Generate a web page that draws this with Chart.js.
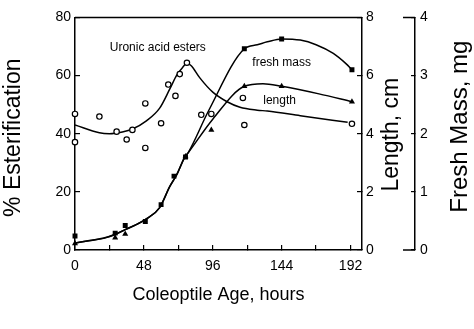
<!DOCTYPE html>
<html>
<head>
<meta charset="utf-8">
<script src="https://cdn.jsdelivr.net/npm/chart.js@4/dist/chart.umd.min.js"></script>
<style>
  html, body { margin: 0; padding: 0; background: #fff; }
  canvas { display: block; }
</style>
</head>
<body>
<canvas id="chart" width="474" height="329"></canvas>
<script>
// 测量点：糖醛酸酯化 (%)
const uronicHours = [0, 0, 17, 29, 36, 40, 49, 49, 60, 65, 70, 73, 78, 88, 95, 117, 118, 193];
const uronicPct = [46.8, 37.1, 45.9, 40.7, 38.0, 41.3, 50.4, 35.1, 43.6, 56.9, 53.0, 60.5, 64.4, 46.5, 46.8, 52.3, 43.0, 43.4];

// 测量点：鲜重 (mg)
const massHours = [0, 28, 35, 49, 60, 69, 77, 118, 144, 193];
const massMg = [0.24, 0.29, 0.42, 0.49, 0.78, 1.27, 1.6, 3.46, 3.63, 3.1];

// 测量点：长度 (cm)
const lengthHours = [0, 28, 35, 77, 95, 118, 144, 193];
const lengthCm = [0.22, 0.42, 0.55, 3.22, 4.13, 5.63, 5.63, 5.1];

// 拟合曲线
const uronicFitHours = [0, 17, 24, 33, 40, 50, 59, 66, 71, 75, 78, 81, 87, 96, 106, 115, 127, 134, 157, 190];
const uronicFitPct = [43, 40.3, 40, 40.6, 41.6, 44.5, 48.8, 55.3, 60.2, 62.8, 64.2, 63.4, 59.2, 54.3, 51, 49.1, 48.1, 47.8, 46.2, 43.9];

const massFitHours = [0, 10, 20, 28.5, 35.5, 43, 50, 59, 66, 71, 76.5, 79, 93, 118, 127, 134, 144, 157, 168, 180, 189, 193];
const massFitMg = [0.12, 0.16, 0.2, 0.27, 0.36, 0.44, 0.54, 0.73, 1.09, 1.3, 1.6, 1.68, 2.39, 3.46, 3.53, 3.58, 3.63, 3.61, 3.53, 3.38, 3.2, 3.1];

const lengthFitHours = [0, 10, 20, 28.5, 35.5, 43, 50, 59, 66, 71, 76.5, 79, 96, 118, 131, 144, 170, 193];
const lengthFitCm = [0.24, 0.33, 0.41, 0.55, 0.71, 0.88, 1.08, 1.46, 2.18, 2.6, 3.19, 3.35, 4.5, 5.63, 5.72, 5.63, 5.37, 5.1];

// 文字标签
const curveLabels = ['Uronic acid esters', 'fresh mass', 'length'];
const titleX = 'Coleoptile Age, hours';
const titleLeft = '% Esterification';
const titleLength = 'Length, cm';
const titleMass = 'Fresh Mass, mg';

const FONT = "'Liberation Sans', Arial, Helvetica, sans-serif";

function toPoints(xs, ys) {
    return xs.map((x, i) => ({ x: x, y: ys[i] }));
}

/**
 * 额外绘制：顶部边框、鲜重轴端点、曲线标注、纵轴标题
 */
const annotatePlugin = {
    id: 'annotate',
    afterDraw(chart) {
        const { ctx, chartArea, scales } = chart;
        ctx.save();
        ctx.strokeStyle = '#000';
        ctx.lineWidth = 1.5;
        ctx.beginPath();
        ctx.moveTo(chartArea.left, chartArea.top);
        ctx.lineTo(chartArea.right, chartArea.top);
        const m = scales.yMass;
        [m.min, m.max].forEach(v => {
            const y = m.getPixelForValue(v);
            ctx.moveTo(m.left - 12, y);
            ctx.lineTo(m.left, y);
        });
        ctx.stroke();

        // 曲线标注
        ctx.fillStyle = '#000';
        ctx.font = '12px ' + FONT;
        ctx.textAlign = 'center';
        ctx.textBaseline = 'middle';
        const spots = [[57.7, 69.6], [144, 64.4], [142.6, 51.4]];
        curveLabels.forEach((t, i) => {
            ctx.fillText(t, scales.x.getPixelForValue(spots[i][0]), scales.y.getPixelForValue(spots[i][1]));
        });

        // 纵轴标题（自下而上）
        const mid = (chartArea.top + chartArea.bottom) / 2;
        [
            [titleLeft, 14, mid + 4, 23],
            [titleLength, scales.yLen.left + 30, mid + 1, 23],
            [titleMass, m.left + 45, mid - 7, 24]
        ].forEach(([t, x, y, size]) => {
            ctx.save();
            ctx.font = size + 'px ' + FONT;
            ctx.translate(x, y);
            ctx.rotate(-Math.PI / 2);
            ctx.fillText(t, 0, 0);
            ctx.restore();
        });
        ctx.restore();
    }
};

const tickFont = { family: FONT, size: 14 };

new Chart(document.getElementById('chart').getContext('2d'), {
    type: 'line',
    data: {
        datasets: [
            {
                label: 'uronic',
                data: toPoints(uronicHours, uronicPct),
                yAxisID: 'y',
                showLine: false,
                pointStyle: 'circle',
                pointRadius: 2.7,
                pointBackgroundColor: '#fff',
                pointBorderColor: '#000',
                pointBorderWidth: 1.2,
                clip: 10
            },
            {
                label: 'mass',
                data: toPoints(massHours, massMg),
                yAxisID: 'yMass',
                showLine: false,
                pointStyle: 'rect',
                pointRadius: 3.5,
                pointBackgroundColor: '#000',
                pointBorderColor: '#000',
                pointBorderWidth: 0,
                clip: 10
            },
            {
                label: 'length',
                data: toPoints(lengthHours, lengthCm),
                yAxisID: 'yLen',
                showLine: false,
                pointStyle: 'triangle',
                pointRadius: 3.5,
                pointBackgroundColor: '#000',
                pointBorderColor: '#000',
                pointBorderWidth: 0,
                clip: 10
            },
            {
                label: 'uronic fit',
                data: toPoints(uronicFitHours, uronicFitPct),
                yAxisID: 'y',
                borderColor: '#000',
                borderWidth: 1.5,
                pointRadius: 0,
                cubicInterpolationMode: 'monotone',
                fill: false
            },
            {
                label: 'mass fit',
                data: toPoints(massFitHours, massFitMg),
                yAxisID: 'yMass',
                borderColor: '#000',
                borderWidth: 1.5,
                pointRadius: 0,
                cubicInterpolationMode: 'monotone',
                fill: false
            },
            {
                label: 'length fit',
                data: toPoints(lengthFitHours, lengthFitCm),
                yAxisID: 'yLen',
                borderColor: '#000',
                borderWidth: 1.5,
                pointRadius: 0,
                cubicInterpolationMode: 'monotone',
                fill: false
            }
        ]
    },
    options: {
        responsive: false,
        animation: false,
        devicePixelRatio: 1,
        layout: { padding: { top: 4, right: 0, bottom: 0, left: 0 } },
        plugins: {
            legend: { display: false },
            tooltip: { enabled: false }
        },
        scales: {
            x: {
                type: 'linear',
                position: 'bottom',
                min: 0,
                max: 200,
                afterFit(scale) { scale.height = 79; },
                grid: { display: true, drawOnChartArea: false, tickLength: -5, color: '#000', lineWidth: 1.2 },
                border: { color: '#000', width: 1.5 },
                ticks: {
                    stepSize: 24,
                    includeBounds: false,
                    autoSkip: false,
                    maxRotation: 0,
                    padding: 13,
                    color: '#000',
                    font: tickFont,
                    callback: v => (v % 48 === 0 ? String(v) : '')
                },
                title: {
                    display: true,
                    text: titleX,
                    color: '#000',
                    font: { family: FONT, size: 18 },
                    padding: { top: 0, bottom: 23 }
                }
            },
            y: {
                type: 'linear',
                position: 'left',
                min: 0,
                max: 80,
                afterFit(scale) { scale.width = 75; },
                grid: { display: true, drawOnChartArea: false, tickLength: -5, color: '#000', lineWidth: 1.2 },
                border: { color: '#000', width: 1.5 },
                ticks: { stepSize: 20, padding: 9, color: '#000', font: tickFont }
            },
            yLen: {
                type: 'linear',
                position: 'right',
                weight: 1,
                min: 0,
                max: 8,
                afterFit(scale) { scale.width = 53; },
                grid: { display: true, drawOnChartArea: false, tickLength: -5, color: '#000', lineWidth: 1.2 },
                border: { color: '#000', width: 1.5 },
                ticks: { stepSize: 2, padding: 9, color: '#000', font: tickFont }
            },
            yMass: {
                type: 'linear',
                position: 'right',
                weight: 2,
                min: 0,
                max: 4,
                afterFit(scale) { scale.width = 59; },
                grid: { display: true, drawOnChartArea: false, tickLength: -4, color: '#000', lineWidth: 1.2 },
                border: { color: '#000', width: 1.5 },
                ticks: { stepSize: 1, padding: 9, color: '#000', font: tickFont }
            }
        }
    },
    plugins: [annotatePlugin]
});
</script>
</body>
</html>
